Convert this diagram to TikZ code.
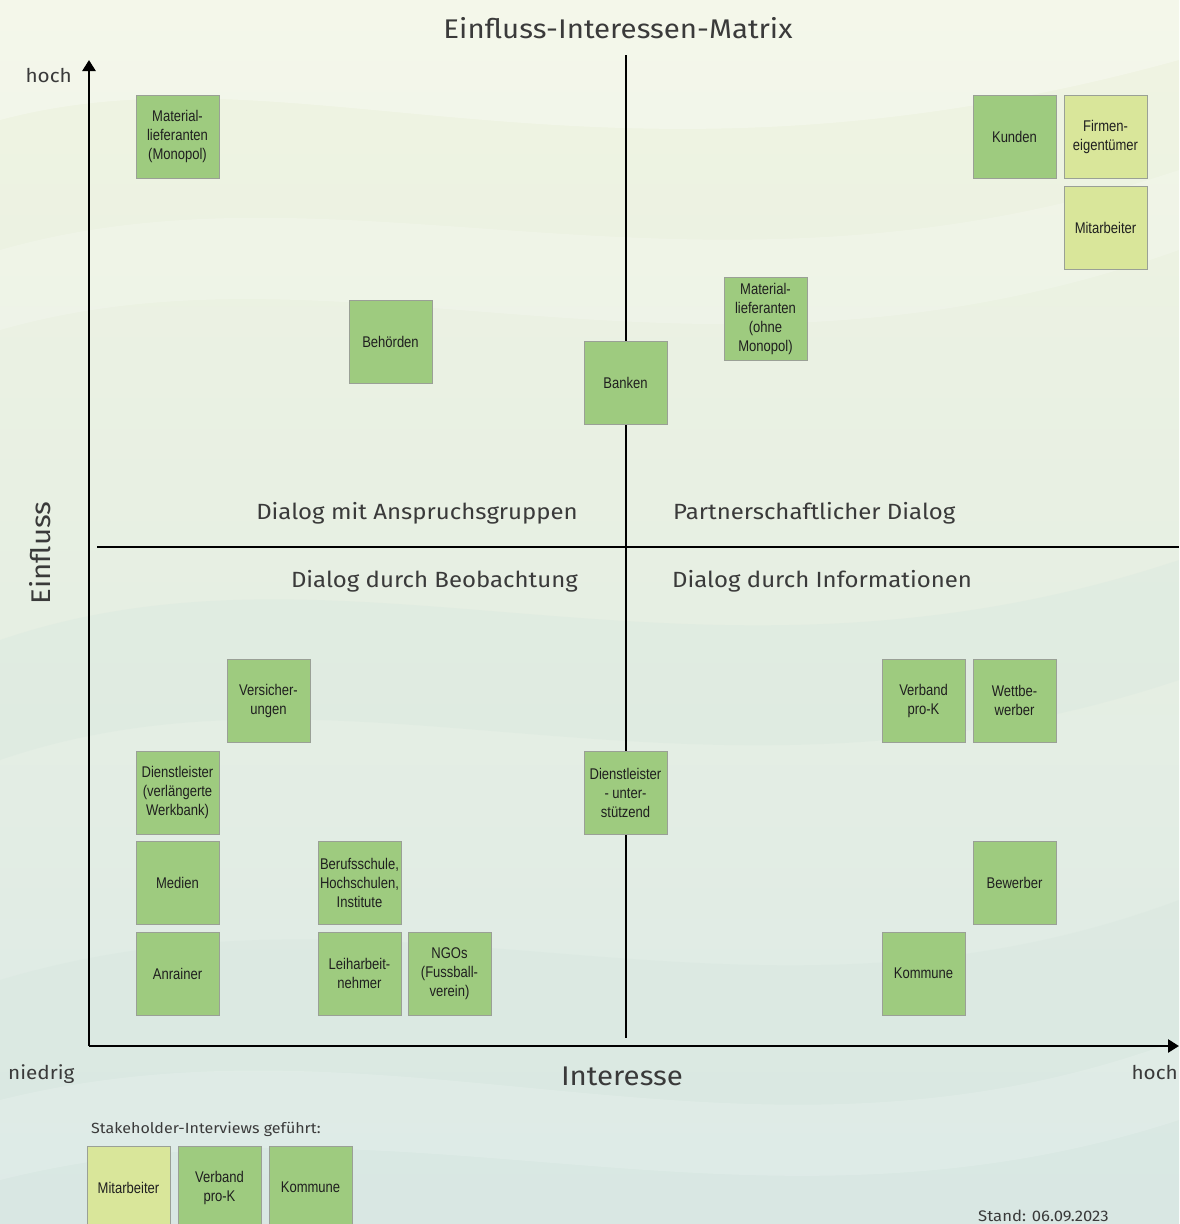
\documentclass[tikz,border=0pt]{standalone}
\usepackage{fontspec}
\setmainfont{Liberation Sans}
\newfontfamily\boxfont[FakeStretch=0.84]{Liberation Sans}
\newfontfamily\labfont[FakeStretch=1.09]{Fira Sans}
\usetikzlibrary{arrows.meta}
\definecolor{bgtop}{HTML}{F0F4E2}
\definecolor{bgmid}{HTML}{E6EFE3}
\definecolor{bgbot}{HTML}{DCE9E6}
\definecolor{dgreen}{HTML}{9ECB7F}
\definecolor{lgreen}{HTML}{D9E69A}
\definecolor{boxborder}{HTML}{9AA096}
\definecolor{txtgray}{HTML}{3A3A3A}
\definecolor{wave}{HTML}{FFFFFF}
\definecolor{wavedark}{HTML}{CFE2DA}
\begin{document}
\begin{tikzpicture}[x=1pt,y=-1pt,
  sh/.style={draw=boxborder, line width=0.8pt, fill=dgreen, minimum width=83pt,
    minimum height=83pt, inner sep=0pt, align=center,
    font=\boxfont\fontsize{15.5}{19}\selectfont, text=black!88},
  shl/.style={sh, fill=lgreen},
  lab/.style={text=txtgray, inner sep=0pt},
  quad/.style={lab, font=\labfont\fontsize{22}{26}\selectfont},
  axislab/.style={lab, font=\labfont\fontsize{19}{22}\selectfont},
  biglab/.style={lab, font=\labfont\fontsize{27}{30}\selectfont},
  axisline/.style={line width=2.6pt, -{Triangle[length=11pt,width=13pt]}},
  divline/.style={line width=2pt}
]
% background
\clip (0,0) rectangle (1179,1224);
\shade[top color=bgtop, bottom color=bgbot, middle color=bgmid] (0,0) rectangle (1179,1224);
\fill[wave, opacity=0.28] (0,120) .. controls (300,40) and (600,220) .. (1179,60) -- (1179,0) -- (0,0) -- cycle;
\fill[wave, opacity=0.18] (0,330) .. controls (350,230) and (700,420) .. (1179,250) -- (1179,170) .. controls (700,330) and (350,150) .. (0,250) -- cycle;
\fill[wavedark, opacity=0.22] (0,640) .. controls (350,520) and (700,720) .. (1179,560) -- (1179,680) .. controls (700,840) and (350,640) .. (0,760) -- cycle;
\fill[wavedark, opacity=0.22] (0,980) .. controls (400,860) and (750,1060) .. (1179,900) -- (1179,1224) -- (0,1224) -- cycle;
\fill[wave, opacity=0.15] (0,1100) .. controls (400,1000) and (750,1200) .. (1179,1040) -- (1179,1120) .. controls (750,1260) and (400,1080) .. (0,1180) -- cycle;

% coordinates
\coordinate (O) at (89,1046);
\coordinate (ytop) at (89,60);
\coordinate (xend) at (1179,1046);
\coordinate (vtop) at (626,55);
\coordinate (vbot) at (626,1038);
\coordinate (hleft) at (97,547);
\coordinate (hright) at (1179,547);

% dividers
\draw[divline] (vtop) -- (vbot);
\draw[divline] (hleft) -- (hright);
% axes
\draw[axisline] (O) -- (ytop);
\draw[axisline] (O) -- (xend);

% titles and labels
\node[biglab, anchor=base] (title) at (618,38) {Einfluss-Interessen-Matrix};
\node[axislab, anchor=base east] (hochy) at (72,82) {hoch};
\node[axislab, anchor=base west] (niedrig) at (8,1079) {niedrig};
\node[axislab, anchor=base east] (hochx) at (1178,1079) {hoch};
\node[biglab, anchor=base] (interesse) at (622,1085) {Interesse};
\node[biglab, rotate=90] (einfluss) at (40,553) {Einfluss};

\node[quad, anchor=base east] (q1) at (578,519) {Dialog mit Anspruchsgruppen};
\node[quad, anchor=base west] (q2) at (673,519) {Partnerschaftlicher Dialog};
\node[quad, anchor=base east] (q3) at (578,587) {Dialog durch Beobachtung};
\node[quad, anchor=base west] (q4) at (672,587) {Dialog durch Informationen};

% stakeholder boxes
\node[sh] (matmono) at (177.5,136.5) {Material-\\lieferanten\\(Monopol)};
\node[sh] (kunden) at (1014.5,136.5) {Kunden};
\node[shl] (eigent) at (1105.5,136.5) {Firmen-\\eigentümer};
\node[shl] (mitarb) at (1105.5,227.5) {Mitarbeiter};
\node[sh] (matohne) at (765.5,318.5) {Material-\\lieferanten\\(ohne\\Monopol)};
\node[sh] (behoerden) at (390.5,341.5) {Behörden};
\node[sh] (banken) at (625.5,382.5) {Banken};
\node[sh] (versich) at (268.5,700.5) {Versicher-\\ungen};
\node[sh] (verband) at (923.5,700.5) {Verband\\pro-K};
\node[sh] (wettbe) at (1014.5,700.5) {Wettbe-\\werber};
\node[sh] (dlwerk) at (177.5,792.5) {Dienstleister\\(verlängerte\\Werkbank)};
\node[sh] (dlunt) at (625.5,792.5) {Dienstleister\\- unter-\\stützend};
\node[sh] (medien) at (177.5,882.5) {Medien};
\node[sh] (schulen) at (359.5,882.5) {Berufsschule,\\Hochschulen,\\Institute};
\node[sh] (bewerber) at (1014.5,882.5) {Bewerber};
\node[sh] (anrainer) at (177.5,973.5) {Anrainer};
\node[sh] (leih) at (359.5,973.5) {Leiharbeit-\\nehmer};
\node[sh] (ngos) at (449.5,973.5) {NGOs\\(Fussball-\\verein)};
\node[sh] (kommune) at (923.5,973.5) {Kommune};

% legend
\node[lab, font=\labfont\fontsize{14.7}{17}\selectfont, anchor=base west] (legtitle) at (91,1133) {Stakeholder-Interviews geführt:};
\node[shl] (legmit) at (128.5,1187.5) {Mitarbeiter};
\node[sh] (legverb) at (219.5,1187.5) {Verband\\pro-K};
\node[sh] (legkomm) at (310.5,1187.5) {Kommune};
\node[lab, font=\labfont\fontsize{15.3}{17}\selectfont, anchor=base west] (stand) at (978,1221) {Stand: 06.09.2023};
\end{tikzpicture}
\end{document}
